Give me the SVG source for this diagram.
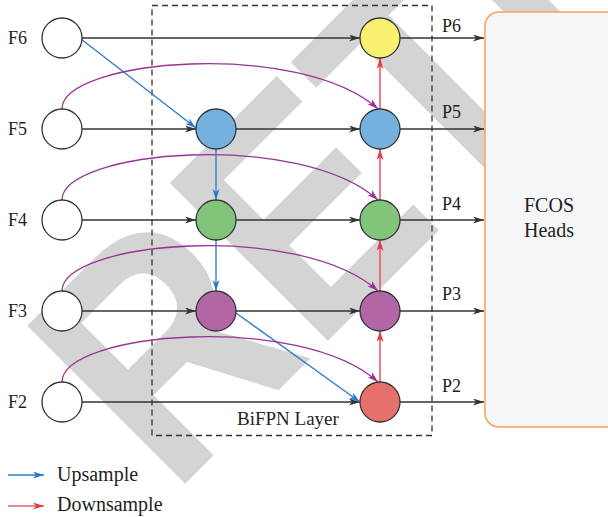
<svg xmlns="http://www.w3.org/2000/svg" width="608" height="517" viewBox="0 0 608 517">
<style>
  .lbl{font-family:"Liberation Serif","Times New Roman",serif;fill:#231f20;}
  .node{stroke:#333;stroke-width:1.3;}
  .dk{stroke:#333;stroke-width:1.3;fill:none;marker-end:url(#aDk);}
  .bl{stroke:#2b7bca;stroke-width:1.3;fill:none;marker-end:url(#aBl);}
  .rd{stroke:#e3606a;stroke-width:1.6;fill:none;marker-end:url(#aRd);}
  .pu{stroke:#99339a;stroke-width:1.3;fill:none;marker-end:url(#aPu);}
</style>
<defs>
  <marker id="aDk" markerUnits="userSpaceOnUse" markerWidth="12" markerHeight="8" refX="11" refY="3.5" orient="auto"><path d="M0,0 L11,3.5 L0,7 L3,3.5 z" fill="#333"/></marker>
  <marker id="aBl" markerUnits="userSpaceOnUse" markerWidth="12" markerHeight="8" refX="11" refY="3.5" orient="auto"><path d="M0,0 L11,3.5 L0,7 L3,3.5 z" fill="#2b7bca"/></marker>
  <marker id="aRd" markerUnits="userSpaceOnUse" markerWidth="12" markerHeight="8" refX="11" refY="3.5" orient="auto"><path d="M0,0 L11,3.5 L0,7 L3,3.5 z" fill="#e63a44"/></marker>
  <marker id="aPu" markerUnits="userSpaceOnUse" markerWidth="12" markerHeight="8" refX="11" refY="3.5" orient="auto"><path d="M0,0 L11,3.5 L0,7 L3,3.5 z" fill="#99339a"/></marker>
</defs>
<rect width="608" height="517" fill="#ffffff"/>
<text id="watermark" transform="translate(172,497) rotate(-45) scale(0.86,1)" font-family="'Liberation Sans',Arial,sans-serif" font-weight="bold" font-size="325" fill="#d4d4d4">RETRACTED</text>

<g id="heads">
  <rect x="485" y="12" width="140" height="415" rx="14" fill="#f5f6f8" stroke="#f5a35c" stroke-width="1.5"/>
  <text class="lbl" x="549" y="212" font-size="20" text-anchor="middle">FCOS</text>
  <text class="lbl" x="549" y="237" font-size="20" text-anchor="middle">Heads</text>
</g>

<g id="bifpn-layer">
  <rect x="152" y="5.5" width="280" height="430" fill="none" stroke="#333" stroke-width="1.3" stroke-dasharray="6,4"/>
  <text class="lbl" x="237" y="425" font-size="19">BiFPN Layer</text>
</g>

<g id="connectors">
  <path class="dk" d="M82,38 H360"/>
  <path class="dk" d="M82,129 H196"/>
  <path class="dk" d="M82,220 H196"/>
  <path class="dk" d="M82,311 H196"/>
  <path class="dk" d="M82,402 H360"/>
  <path class="dk" d="M236,129 H360"/>
  <path class="dk" d="M236,220 H360"/>
  <path class="dk" d="M236,311 H360"/>
  <path class="dk" d="M400,38 H484"/>
  <path class="dk" d="M400,129 H484"/>
  <path class="dk" d="M400,220 H484"/>
  <path class="dk" d="M400,311 H484"/>
  <path class="dk" d="M400,402 H484"/>
  <path class="bl" d="M81,39 L196,128"/>
  <path class="bl" d="M216,149 V200"/>
  <path class="bl" d="M216,240 V291"/>
  <path class="bl" d="M236,313 L360,402"/>
  <path class="rd" d="M380,382 V331"/>
  <path class="rd" d="M380,291 V240"/>
  <path class="rd" d="M380,200 V149"/>
  <path class="rd" d="M380,109 V58"/>
  <path class="pu" d="M62,109 C62,59 300,39 378,109"/>
  <path class="pu" d="M62,200 C62,150 300,130 378,200"/>
  <path class="pu" d="M62,291 C62,241 300,221 378,291"/>
  <path class="pu" d="M62,382 C62,332 300,312 378,382"/>
</g>

<g id="F6"><circle class="node" cx="62" cy="38" r="20" fill="#fff"/><text class="lbl" x="8" y="44" font-size="18">F6</text></g>
<g id="F5"><circle class="node" cx="62" cy="129" r="20" fill="#fff"/><text class="lbl" x="8" y="135" font-size="18">F5</text></g>
<g id="F4"><circle class="node" cx="62" cy="220" r="20" fill="#fff"/><text class="lbl" x="8" y="226" font-size="18">F4</text></g>
<g id="F3"><circle class="node" cx="62" cy="311" r="20" fill="#fff"/><text class="lbl" x="8" y="317" font-size="18">F3</text></g>
<g id="F2"><circle class="node" cx="62" cy="402" r="20" fill="#fff"/><text class="lbl" x="8" y="408" font-size="18">F2</text></g>

<g id="M5"><circle class="node" cx="216" cy="129" r="20" fill="#74b1df"/></g>
<g id="M4"><circle class="node" cx="216" cy="220" r="20" fill="#82c57a"/></g>
<g id="M3"><circle class="node" cx="216" cy="311" r="20" fill="#b266a6"/></g>

<g id="P6"><circle class="node" cx="380" cy="38" r="20" fill="#f9f06f"/><text class="lbl" x="442" y="32" font-size="18">P6</text></g>
<g id="P5"><circle class="node" cx="380" cy="129" r="20" fill="#74b1df"/><text class="lbl" x="442" y="118" font-size="18">P5</text></g>
<g id="P4"><circle class="node" cx="380" cy="220" r="20" fill="#82c57a"/><text class="lbl" x="442" y="210" font-size="18">P4</text></g>
<g id="P3"><circle class="node" cx="380" cy="311" r="20" fill="#b266a6"/><text class="lbl" x="442" y="300" font-size="18">P3</text></g>
<g id="P2"><circle class="node" cx="380" cy="402" r="20" fill="#e6716c"/><text class="lbl" x="442" y="392" font-size="18">P2</text></g>

<g id="legend">
  <path class="bl" d="M8,475 H44"/>
  <text class="lbl" x="57" y="481" font-size="20">Upsample</text>
  <path class="rd" d="M8,506 H44"/>
  <text class="lbl" x="57" y="511" font-size="20">Downsample</text>
</g>
</svg>
